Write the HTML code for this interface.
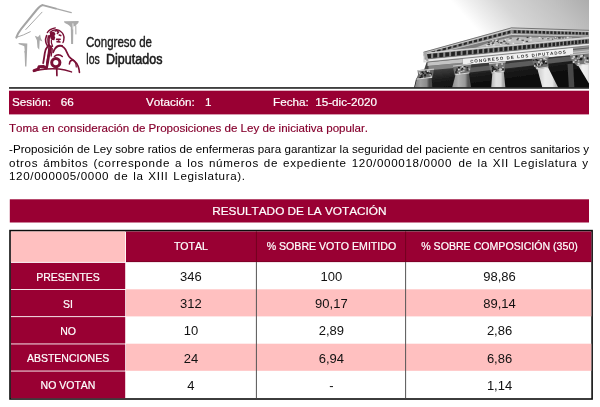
<!DOCTYPE html>
<html lang="es"><head><meta charset="utf-8">
<style>
html,body{margin:0;padding:0;background:#fff;}
body{width:600px;height:407px;overflow:hidden;position:relative;font-family:"Liberation Sans",Arial,sans-serif;color:#000;font-kerning:none;}
.abs{position:absolute;}
#band{left:9px;top:90.7px;width:580px;height:23.7px;color:#fff;-webkit-text-stroke:0.2px #fff;font-size:11.7px;line-height:22px;}
#band span{position:absolute;top:0;white-space:pre;}
#t1{left:8.9px;top:122.0px;line-height:13px;font-size:11.58px;color:#86002e;-webkit-text-stroke:0.15px #86002e;white-space:nowrap;}
.pl{left:9px;font-size:11.6px;line-height:14px;white-space:nowrap;}
#res{left:9.8px;top:199.3px;width:579.2px;height:23.2px;color:#fff;-webkit-text-stroke:0.2px #fff;font-size:11.8px;line-height:24px;text-align:center;}
.hd{color:#fff;font-size:10.6px;-webkit-text-stroke:0.2px #fff;text-align:center;white-space:nowrap;}
.lb{color:#fff;font-size:10.5px;-webkit-text-stroke:0.2px #fff;text-align:center;white-space:nowrap;}
.num{color:#111;font-size:13px;text-align:center;white-space:nowrap;}
</style></head><body>
<svg class="abs" style="left:0;top:0" width="600" height="90" viewBox="0 0 600 90"><defs>
<linearGradient id="sky" gradientUnits="userSpaceOnUse" x1="589" y1="0" x2="512.2" y2="69.1"><stop offset="0" stop-color="#adadad"/><stop offset="0.28" stop-color="#c1c1c1"/><stop offset="0.64" stop-color="#d6d6d6"/><stop offset="0.86" stop-color="#eeeeee"/><stop offset="1" stop-color="#ffffff"/></linearGradient>
<clipPath id="ph"><rect x="300" y="0" width="289" height="87.6"/></clipPath>
<filter id="bl" x="-5%" y="-5%" width="110%" height="110%"><feGaussianBlur stdDeviation="0.5"/></filter>
<linearGradient id="cg0" x1="0" y1="0" x2="1" y2="0"><stop offset="0" stop-color="#7e7e7e"/><stop offset="0.35" stop-color="#a0a0a0"/><stop offset="0.68" stop-color="#8a8a8a"/><stop offset="0.82" stop-color="#4c4c4c"/><stop offset="1" stop-color="#4c4c4c"/></linearGradient>
<linearGradient id="cg1" x1="0" y1="0" x2="1" y2="0"><stop offset="0" stop-color="#8c8c8c"/><stop offset="0.35" stop-color="#b0b0b0"/><stop offset="0.68" stop-color="#989898"/><stop offset="0.82" stop-color="#565656"/><stop offset="1" stop-color="#565656"/></linearGradient>
<linearGradient id="cg2" x1="0" y1="0" x2="1" y2="0"><stop offset="0" stop-color="#b4b4b4"/><stop offset="0.35" stop-color="#e0e0e0"/><stop offset="0.68" stop-color="#dadada"/><stop offset="0.82" stop-color="#a8a8a8"/><stop offset="1" stop-color="#a8a8a8"/></linearGradient>
<linearGradient id="cg3" x1="0" y1="0" x2="1" y2="0"><stop offset="0" stop-color="#c8c8c8"/><stop offset="0.35" stop-color="#ececec"/><stop offset="0.68" stop-color="#e6e6e6"/><stop offset="0.82" stop-color="#bcbcbc"/><stop offset="1" stop-color="#bcbcbc"/></linearGradient>
<linearGradient id="cg4" x1="0" y1="0" x2="1" y2="0"><stop offset="0" stop-color="#d0d0d0"/><stop offset="0.35" stop-color="#f0f0f0"/><stop offset="0.68" stop-color="#eaeaea"/><stop offset="0.82" stop-color="#cccccc"/><stop offset="1" stop-color="#cccccc"/></linearGradient><linearGradient id="dk" gradientUnits="userSpaceOnUse" x1="480" y1="62" x2="483" y2="84"><stop offset="0" stop-color="#444"/><stop offset="0.55" stop-color="#1c1c1c"/><stop offset="1" stop-color="#0e0e0e"/></linearGradient>
</defs>
<g clip-path="url(#ph)">
<rect x="300" y="0" width="289" height="88" fill="url(#sky)"/>
<g filter="url(#bl)">
<polygon points="427,61 592.0,45.70 592.0,90 413.5,90 416,79 424,70" fill="url(#dk)"/>
<polygon points="456.00,69.19 592.00,53.94 592.00,58.74 456.00,73.99" fill="#5c5c5c" />
<polygon points="428.50,65.95 462.70,62.70 462.70,67.20 428.50,70.16" fill="#858585" />
<polygon points="427.50,62.20 462.70,58.67 462.70,62.70 427.50,66.05" fill="#c4c4c4" />
<polygon points="462.70,58.20 573.00,47.40 573.00,55.20 462.70,65.30" fill="#f0f0f0" />
<line x1="462.70" y1="65.60" x2="573.00" y2="55.50" stroke="#3a3a3a" stroke-width="0.8"/>
<polygon points="573.00,46.00 592.00,44.20 592.00,53.00 573.00,54.80" fill="#9a9a9a" />
<line x1="573.00" y1="49.50" x2="592.00" y2="47.60" stroke="#555" stroke-width="0.9"/>
<line x1="573.00" y1="52.40" x2="592.00" y2="50.50" stroke="#d0d0d0" stroke-width="0.9"/>
<polygon points="427.50,53.00 511.50,32.50 592.0,35.10 592.0,36.71" fill="#7c7c7c"/>
<polygon points="476.00,47.59 488.00,43.00 498.00,40.30 510.00,37.60 520.00,37.00 532.00,37.40 546.00,37.60 560.00,37.60 572.00,37.60 572.00,38.62" fill="#bdbdbd"/>
<rect x="510.50" y="37.61" width="1.27" height="1.3" fill="#707070"/>
<rect x="554.27" y="36.84" width="1.28" height="1.3" fill="#dcdcdc"/>
<rect x="526.65" y="36.79" width="1.79" height="1.3" fill="#3c3c3c"/>
<rect x="503.18" y="40.77" width="2.36" height="1.3" fill="#4a4a4a"/>
<rect x="492.89" y="40.86" width="2.02" height="1.3" fill="#707070"/>
<rect x="487.44" y="43.71" width="2.57" height="1.3" fill="#4a4a4a"/>
<rect x="486.10" y="45.05" width="1.79" height="1.3" fill="#e6e6e6"/>
<rect x="529.58" y="39.38" width="2.34" height="1.3" fill="#dcdcdc"/>
<rect x="497.90" y="41.90" width="1.46" height="1.3" fill="#707070"/>
<rect x="490.57" y="43.79" width="1.28" height="1.3" fill="#dcdcdc"/>
<rect x="500.12" y="42.17" width="2.29" height="1.3" fill="#3c3c3c"/>
<rect x="522.97" y="41.68" width="1.62" height="1.3" fill="#e6e6e6"/>
<rect x="551.91" y="38.52" width="1.31" height="1.3" fill="#5c5c5c"/>
<rect x="508.42" y="40.01" width="2.22" height="1.3" fill="#e6e6e6"/>
<rect x="507.34" y="43.46" width="1.92" height="1.3" fill="#4a4a4a"/>
<rect x="496.52" y="40.71" width="1.79" height="1.3" fill="#3c3c3c"/>
<rect x="566.66" y="36.70" width="2.00" height="1.3" fill="#dcdcdc"/>
<rect x="559.04" y="37.25" width="1.69" height="1.3" fill="#707070"/>
<rect x="525.71" y="40.78" width="2.38" height="1.3" fill="#4a4a4a"/>
<rect x="565.13" y="37.30" width="1.29" height="1.3" fill="#707070"/>
<rect x="546.34" y="37.61" width="2.59" height="1.3" fill="#dcdcdc"/>
<rect x="554.33" y="37.31" width="2.44" height="1.3" fill="#3c3c3c"/>
<rect x="512.54" y="42.71" width="1.44" height="1.3" fill="#e6e6e6"/>
<rect x="492.30" y="40.15" width="1.38" height="1.3" fill="#e6e6e6"/>
<rect x="503.79" y="39.50" width="1.31" height="1.3" fill="#3c3c3c"/>
<rect x="521.53" y="39.70" width="2.35" height="1.3" fill="#5c5c5c"/>
<rect x="558.03" y="37.20" width="2.58" height="1.3" fill="#3c3c3c"/>
<rect x="542.08" y="38.00" width="1.41" height="1.3" fill="#5c5c5c"/>
<rect x="497.51" y="39.82" width="1.22" height="1.3" fill="#5c5c5c"/>
<rect x="555.14" y="37.04" width="1.21" height="1.3" fill="#e6e6e6"/>
<rect x="518.87" y="38.78" width="1.65" height="1.3" fill="#dcdcdc"/>
<rect x="493.04" y="44.21" width="2.12" height="1.3" fill="#dcdcdc"/>
<rect x="547.10" y="38.06" width="2.32" height="1.3" fill="#707070"/>
<rect x="516.53" y="39.04" width="1.87" height="1.3" fill="#4a4a4a"/>
<rect x="517.24" y="37.75" width="1.82" height="1.3" fill="#5c5c5c"/>
<rect x="491.67" y="43.07" width="1.20" height="1.3" fill="#4a4a4a"/>
<rect x="495.31" y="39.59" width="2.06" height="1.3" fill="#e6e6e6"/>
<rect x="488.19" y="41.91" width="1.41" height="1.3" fill="#3c3c3c"/>
<rect x="504.20" y="39.13" width="1.86" height="1.3" fill="#e6e6e6"/>
<rect x="492.15" y="42.40" width="1.87" height="1.3" fill="#3c3c3c"/>
<rect x="509.44" y="37.58" width="1.68" height="1.3" fill="#707070"/>
<rect x="505.30" y="42.56" width="1.92" height="1.3" fill="#5c5c5c"/>
<rect x="500.06" y="43.97" width="1.41" height="1.3" fill="#e6e6e6"/>
<rect x="529.80" y="36.73" width="1.62" height="1.3" fill="#dcdcdc"/>
<rect x="538.58" y="36.97" width="1.93" height="1.3" fill="#e6e6e6"/>
<rect x="561.93" y="37.23" width="1.95" height="1.3" fill="#5c5c5c"/>
<polygon points="423.50,52.00 511.50,27.50 511.50,34.90 423.50,56.80" fill="#cdcdcd" />
<polygon points="423.50,53.44 511.50,29.72 511.50,33.27 423.50,55.74" fill="#8a8a8a" />
<polygon points="426.00,53.06 429.47,52.13 429.47,54.12 426.00,55.01" fill="#262626"/>
<polygon points="431.60,51.56 435.03,50.64 435.03,52.70 431.60,53.57" fill="#262626"/>
<polygon points="437.13,50.08 440.51,49.17 440.51,51.29 437.13,52.16" fill="#262626"/>
<polygon points="442.58,48.62 445.92,47.72 445.92,49.91 442.58,50.76" fill="#262626"/>
<polygon points="447.97,47.18 451.27,46.29 451.27,48.54 447.97,49.38" fill="#262626"/>
<polygon points="453.29,45.75 456.54,44.88 456.54,47.19 453.29,48.02" fill="#262626"/>
<polygon points="458.54,44.35 461.75,43.49 461.75,45.86 458.54,46.68" fill="#262626"/>
<polygon points="463.72,42.96 466.89,42.11 466.89,44.54 463.72,45.35" fill="#262626"/>
<polygon points="468.83,41.59 471.96,40.75 471.96,43.24 468.83,44.04" fill="#262626"/>
<polygon points="473.88,40.24 476.97,39.41 476.97,41.96 473.88,42.75" fill="#262626"/>
<polygon points="478.87,38.90 481.92,38.09 481.92,40.70 478.87,41.48" fill="#262626"/>
<polygon points="483.79,37.58 486.80,36.78 486.80,39.45 483.79,40.22" fill="#262626"/>
<polygon points="488.64,36.28 491.62,35.49 491.62,38.21 488.64,38.97" fill="#262626"/>
<polygon points="493.44,35.00 496.37,34.22 496.37,37.00 493.44,37.75" fill="#262626"/>
<polygon points="498.17,33.73 501.07,32.96 501.07,35.79 498.17,36.54" fill="#262626"/>
<polygon points="502.84,32.48 505.70,31.72 505.70,34.61 502.84,35.34" fill="#262626"/>
<polygon points="507.45,31.25 510.27,30.49 510.27,33.44 507.45,34.16" fill="#262626"/>
<line x1="424.50" y1="55.59" x2="511.50" y2="33.42" stroke="#7c7c7c" stroke-width="0.7"/>
<line x1="423.50" y1="52.24" x2="511.50" y2="27.87" stroke="#6a6a6a" stroke-width="0.9"/>
<polygon points="511.20,27.49 592.00,30.10 592.00,36.60 511.20,34.89" fill="#cdcdcd" />
<polygon points="511.20,29.71 592.00,32.05 592.00,35.17 511.20,33.26" fill="#8a8a8a" />
<polygon points="513.70,30.22 516.37,30.30 516.37,33.24 513.70,33.17" fill="#262626"/>
<polygon points="518.00,30.35 520.63,30.42 520.63,33.34 518.00,33.28" fill="#262626"/>
<polygon points="522.24,30.47 524.83,30.54 524.83,33.44 522.24,33.38" fill="#262626"/>
<polygon points="526.42,30.58 528.97,30.66 528.97,33.54 526.42,33.48" fill="#262626"/>
<polygon points="530.54,30.70 533.06,30.77 533.06,33.63 530.54,33.57" fill="#262626"/>
<polygon points="534.60,30.82 537.09,30.89 537.09,33.73 534.60,33.67" fill="#262626"/>
<polygon points="538.61,30.93 541.06,31.00 541.06,33.82 538.61,33.77" fill="#262626"/>
<polygon points="542.56,31.04 544.98,31.11 544.98,33.92 542.56,33.86" fill="#262626"/>
<polygon points="546.46,31.15 548.84,31.22 548.84,34.01 546.46,33.95" fill="#262626"/>
<polygon points="550.30,31.26 552.64,31.32 552.64,34.10 550.30,34.04" fill="#262626"/>
<polygon points="554.08,31.37 556.40,31.43 556.40,34.19 554.08,34.13" fill="#262626"/>
<polygon points="557.81,31.47 560.10,31.54 560.10,34.28 557.81,34.22" fill="#262626"/>
<polygon points="561.49,31.58 563.74,31.64 563.74,34.36 561.49,34.31" fill="#262626"/>
<polygon points="565.12,31.68 567.34,31.74 567.34,34.45 565.12,34.40" fill="#262626"/>
<polygon points="568.70,31.78 570.89,31.84 570.89,34.53 568.70,34.48" fill="#262626"/>
<polygon points="572.23,31.88 574.38,31.94 574.38,34.62 572.23,34.57" fill="#262626"/>
<polygon points="575.71,31.98 577.83,32.04 577.83,34.70 575.71,34.65" fill="#262626"/>
<polygon points="579.13,32.07 581.23,32.13 581.23,34.78 579.13,34.73" fill="#262626"/>
<polygon points="582.51,32.17 584.58,32.23 584.58,34.86 582.51,34.81" fill="#262626"/>
<polygon points="585.85,32.26 587.89,32.32 587.89,34.94 585.85,34.89" fill="#262626"/>
<polygon points="589.13,32.36 591.14,32.41 591.14,35.02 589.13,34.97" fill="#262626"/>
<line x1="512.20" y1="33.43" x2="592.00" y2="35.30" stroke="#7c7c7c" stroke-width="0.7"/>
<line x1="511.20" y1="27.86" x2="592.00" y2="30.42" stroke="#6a6a6a" stroke-width="0.9"/>
<polygon points="423.50,52.80 592.00,36.71 592.00,45.70 423.50,62.60" fill="#d4d4d4" />
<polygon points="424.70,53.89 592.00,38.52 592.00,43.11 424.70,59.28" fill="#8c8c8c" />
<polygon points="427.00,54.18 431.09,53.80 431.09,58.27 427.00,58.66" fill="#222222"/>
<polygon points="433.20,53.61 437.22,53.24 437.22,57.67 433.20,58.06" fill="#222222"/>
<polygon points="439.29,53.05 443.23,52.69 443.23,57.09 439.29,57.47" fill="#222222"/>
<polygon points="445.26,52.50 449.14,52.15 449.14,56.52 445.26,56.90" fill="#222222"/>
<polygon points="451.13,51.96 454.93,51.61 454.93,55.96 451.13,56.33" fill="#222222"/>
<polygon points="456.89,51.43 460.63,51.09 460.63,55.41 456.89,55.77" fill="#222222"/>
<polygon points="462.55,50.91 466.21,50.58 466.21,54.87 462.55,55.22" fill="#222222"/>
<polygon points="468.10,50.40 471.70,50.07 471.70,54.34 468.10,54.69" fill="#222222"/>
<polygon points="473.56,49.90 477.09,49.58 477.09,53.82 473.56,54.16" fill="#222222"/>
<polygon points="478.91,49.41 482.38,49.09 482.38,53.31 478.91,53.64" fill="#222222"/>
<polygon points="484.17,48.93 487.57,48.62 487.57,52.81 484.17,53.14" fill="#222222"/>
<polygon points="489.33,48.45 492.67,48.15 492.67,52.31 489.33,52.64" fill="#222222"/>
<polygon points="494.39,47.99 497.68,47.69 497.68,51.83 494.39,52.15" fill="#222222"/>
<polygon points="499.37,47.53 502.59,47.24 502.59,51.35 499.37,51.67" fill="#222222"/>
<polygon points="504.25,47.08 507.42,46.79 507.42,50.89 504.25,51.19" fill="#222222"/>
<polygon points="509.05,46.64 512.15,46.36 512.15,50.43 509.05,50.73" fill="#222222"/>
<polygon points="513.76,46.21 516.81,45.93 516.81,49.98 513.76,50.27" fill="#222222"/>
<polygon points="518.38,45.79 521.37,45.51 521.37,49.54 518.38,49.83" fill="#222222"/>
<polygon points="522.92,45.37 525.86,45.10 525.86,49.10 522.92,49.39" fill="#222222"/>
<polygon points="527.37,44.96 530.26,44.69 530.26,48.68 527.37,48.96" fill="#222222"/>
<polygon points="531.75,44.56 534.58,44.30 534.58,48.26 531.75,48.53" fill="#222222"/>
<polygon points="536.04,44.16 538.83,43.91 538.83,47.85 536.04,48.12" fill="#222222"/>
<polygon points="540.26,43.78 542.99,43.53 542.99,47.45 540.26,47.71" fill="#222222"/>
<polygon points="544.40,43.40 547.08,43.15 547.08,47.05 544.40,47.31" fill="#222222"/>
<polygon points="548.47,43.02 551.10,42.78 551.10,46.66 548.47,46.92" fill="#222222"/>
<polygon points="552.46,42.66 555.04,42.42 555.04,46.28 552.46,46.53" fill="#222222"/>
<polygon points="556.38,42.30 558.92,42.06 558.92,45.91 556.38,46.15" fill="#222222"/>
<polygon points="560.23,41.94 562.72,41.71 562.72,45.54 560.23,45.78" fill="#222222"/>
<polygon points="564.00,41.60 566.45,41.37 566.45,45.18 564.00,45.42" fill="#222222"/>
<polygon points="567.71,41.26 570.12,41.03 570.12,44.83 567.71,45.06" fill="#222222"/>
<polygon points="571.35,40.92 573.71,40.70 573.71,44.48 571.35,44.71" fill="#222222"/>
<polygon points="574.93,40.59 577.25,40.38 577.25,44.14 574.93,44.36" fill="#222222"/>
<polygon points="578.44,40.27 580.71,40.06 580.71,43.80 578.44,44.02" fill="#222222"/>
<polygon points="581.89,39.95 584.12,39.75 584.12,43.47 581.89,43.69" fill="#222222"/>
<polygon points="585.27,39.64 587.46,39.44 587.46,43.15 585.27,43.36" fill="#222222"/>
<polygon points="588.59,39.34 590.74,39.14 590.74,42.83 588.59,43.04" fill="#222222"/>
<polygon points="591.85,39.04 592.00,39.02 592.00,42.71 591.85,42.72" fill="#222222"/>
<line x1="425.50" y1="59.01" x2="592.00" y2="42.91" stroke="#6a6a6a" stroke-width="0.8"/>
<line x1="424.50" y1="60.74" x2="592.00" y2="44.28" stroke="#ebebeb" stroke-width="1.3"/>
<line x1="427.50" y1="62.00" x2="592.00" y2="45.50" stroke="#666" stroke-width="0.7"/>
<polygon points="423.5,52 426.5,52 428.8,62 426,60.4" fill="#a6a6a6"/>
<polygon points="417.00,78.50 431.50,76.77 432.50,90.00 414.00,90.00" fill="url(#cg0)"/>
<polygon points="417.50,70.30 434.00,68.57 433.40,73.07 432.50,77.77 416.00,79.50 418.10,74.80" fill="#6a6a6a"/>
<line x1="417.50" y1="70.90" x2="434.00" y2="69.17" stroke="#c9c9c9" stroke-width="1.3"/>
<rect x="424.38" y="74.40" width="1.72" height="1.61" fill="#1a1a1a"/>
<rect x="426.10" y="71.63" width="1.73" height="1.69" fill="#303030"/>
<rect x="421.08" y="73.96" width="1.38" height="1.85" fill="#262626"/>
<rect x="427.58" y="70.49" width="2.17" height="1.72" fill="#cacaca"/>
<rect x="426.48" y="71.40" width="2.05" height="1.25" fill="#1e1e1e"/>
<rect x="419.83" y="77.08" width="1.33" height="1.57" fill="#303030"/>
<rect x="424.29" y="76.36" width="1.51" height="1.44" fill="#303030"/>
<rect x="418.29" y="71.76" width="1.55" height="2.00" fill="#b4b4b4"/>
<rect x="430.47" y="75.69" width="1.53" height="1.81" fill="#b4b4b4"/>
<rect x="425.13" y="70.66" width="1.99" height="1.52" fill="#303030"/>
<rect x="429.29" y="72.68" width="2.06" height="1.20" fill="#1e1e1e"/>
<rect x="421.78" y="77.09" width="1.64" height="1.77" fill="#cacaca"/>
<rect x="423.99" y="74.48" width="2.00" height="1.42" fill="#262626"/>
<rect x="419.71" y="73.32" width="1.98" height="1.29" fill="#cacaca"/>
<rect x="421.55" y="71.53" width="1.72" height="1.59" fill="#1e1e1e"/>
<rect x="427.34" y="71.52" width="1.47" height="1.79" fill="#303030"/>
<rect x="420.62" y="75.37" width="1.66" height="1.99" fill="#1e1e1e"/>
<rect x="419.42" y="77.02" width="1.83" height="2.00" fill="#1a1a1a"/>
<rect x="418.64" y="72.43" width="1.84" height="1.66" fill="#1a1a1a"/>
<rect x="418.88" y="72.12" width="1.53" height="1.82" fill="#cacaca"/>
<rect x="422.76" y="72.75" width="1.37" height="1.37" fill="#1e1e1e"/>
<rect x="426.82" y="70.38" width="1.63" height="1.56" fill="#d6d6d6"/>
<rect x="430.57" y="73.22" width="1.42" height="1.51" fill="#303030"/>
<rect x="426.57" y="72.45" width="2.04" height="1.40" fill="#262626"/>
<rect x="421.40" y="75.95" width="1.48" height="1.96" fill="#303030"/>
<rect x="429.49" y="74.16" width="1.34" height="1.29" fill="#cacaca"/>
<line x1="416.50" y1="79.10" x2="432.00" y2="77.37" stroke="#dadada" stroke-width="1.0"/>
<polygon points="455.70,74.20 468.70,72.28 471.50,90.00 451.50,90.00" fill="url(#cg1)"/>
<polygon points="453.00,65.50 471.30,63.58 470.70,68.08 469.70,73.28 454.70,75.20 453.60,70.00" fill="#707070"/>
<line x1="453.00" y1="66.10" x2="471.30" y2="64.18" stroke="#c9c9c9" stroke-width="1.3"/>
<rect x="461.02" y="70.50" width="1.61" height="1.51" fill="#b4b4b4"/>
<rect x="468.09" y="68.48" width="2.03" height="1.75" fill="#b4b4b4"/>
<rect x="462.70" y="69.60" width="1.86" height="1.98" fill="#b4b4b4"/>
<rect x="459.49" y="68.35" width="1.35" height="1.86" fill="#262626"/>
<rect x="455.87" y="71.25" width="1.91" height="1.84" fill="#d6d6d6"/>
<rect x="456.36" y="72.89" width="2.12" height="1.61" fill="#1a1a1a"/>
<rect x="456.50" y="73.37" width="1.40" height="1.54" fill="#cacaca"/>
<rect x="456.19" y="68.49" width="1.80" height="1.98" fill="#303030"/>
<rect x="466.49" y="69.18" width="2.03" height="1.52" fill="#303030"/>
<rect x="460.28" y="70.13" width="1.85" height="1.63" fill="#cacaca"/>
<rect x="463.45" y="66.06" width="2.18" height="1.73" fill="#262626"/>
<rect x="459.34" y="68.53" width="1.65" height="1.45" fill="#b4b4b4"/>
<rect x="457.87" y="68.48" width="1.76" height="1.85" fill="#d6d6d6"/>
<rect x="461.35" y="65.88" width="2.07" height="1.23" fill="#1a1a1a"/>
<rect x="455.22" y="71.24" width="1.65" height="1.82" fill="#1e1e1e"/>
<rect x="456.05" y="70.24" width="1.37" height="1.42" fill="#262626"/>
<rect x="460.45" y="69.40" width="1.87" height="1.24" fill="#303030"/>
<rect x="460.76" y="67.26" width="1.71" height="1.76" fill="#d6d6d6"/>
<rect x="466.47" y="66.89" width="1.72" height="1.64" fill="#262626"/>
<rect x="457.34" y="71.68" width="2.12" height="1.21" fill="#262626"/>
<rect x="458.43" y="71.59" width="1.46" height="1.84" fill="#d6d6d6"/>
<rect x="461.37" y="67.48" width="2.19" height="2.00" fill="#1e1e1e"/>
<rect x="461.40" y="65.85" width="2.09" height="1.73" fill="#d6d6d6"/>
<rect x="458.09" y="66.88" width="1.77" height="1.58" fill="#1a1a1a"/>
<rect x="463.17" y="67.40" width="2.10" height="1.33" fill="#cacaca"/>
<rect x="458.79" y="72.30" width="1.60" height="1.89" fill="#d6d6d6"/>
<line x1="455.20" y1="74.80" x2="469.20" y2="72.88" stroke="#dadada" stroke-width="1.0"/>
<polygon points="492.40,72.40 503.70,70.66 505.60,90.00 491.00,90.00" fill="url(#cg2)"/>
<polygon points="489.00,63.00 505.60,61.26 505.00,65.76 504.70,71.66 491.40,73.40 489.60,67.50" fill="#727272"/>
<line x1="489.00" y1="63.60" x2="505.60" y2="61.86" stroke="#c9c9c9" stroke-width="1.3"/>
<rect x="493.68" y="69.05" width="2.02" height="1.91" fill="#b4b4b4"/>
<rect x="498.29" y="68.42" width="1.50" height="1.79" fill="#1a1a1a"/>
<rect x="492.00" y="68.02" width="1.97" height="1.22" fill="#262626"/>
<rect x="492.13" y="69.20" width="2.19" height="1.87" fill="#1e1e1e"/>
<rect x="491.79" y="70.10" width="1.54" height="1.56" fill="#1a1a1a"/>
<rect x="495.66" y="64.59" width="1.62" height="1.39" fill="#d6d6d6"/>
<rect x="501.32" y="67.19" width="1.90" height="1.91" fill="#cacaca"/>
<rect x="498.13" y="68.35" width="2.04" height="1.84" fill="#d6d6d6"/>
<rect x="502.17" y="68.20" width="1.85" height="1.99" fill="#303030"/>
<rect x="495.81" y="69.17" width="1.46" height="1.36" fill="#303030"/>
<rect x="496.80" y="65.35" width="1.54" height="1.42" fill="#cacaca"/>
<rect x="501.18" y="67.42" width="1.51" height="1.39" fill="#303030"/>
<rect x="492.63" y="66.67" width="1.69" height="1.70" fill="#1e1e1e"/>
<rect x="496.00" y="63.48" width="2.14" height="1.23" fill="#cacaca"/>
<rect x="492.45" y="70.12" width="1.70" height="1.40" fill="#1a1a1a"/>
<rect x="499.19" y="68.87" width="2.10" height="1.84" fill="#d6d6d6"/>
<rect x="493.18" y="70.42" width="1.77" height="1.73" fill="#d6d6d6"/>
<rect x="501.17" y="68.41" width="1.95" height="1.37" fill="#262626"/>
<rect x="497.91" y="67.79" width="1.33" height="1.67" fill="#303030"/>
<rect x="497.42" y="64.73" width="1.45" height="1.75" fill="#262626"/>
<rect x="491.42" y="65.70" width="1.69" height="1.68" fill="#1e1e1e"/>
<rect x="500.08" y="68.45" width="2.04" height="1.72" fill="#cacaca"/>
<rect x="496.86" y="64.36" width="1.41" height="1.44" fill="#d6d6d6"/>
<rect x="493.74" y="68.36" width="2.14" height="1.62" fill="#1e1e1e"/>
<rect x="501.31" y="63.18" width="1.60" height="1.60" fill="#d6d6d6"/>
<rect x="502.23" y="66.84" width="1.50" height="1.37" fill="#cacaca"/>
<line x1="491.90" y1="73.00" x2="504.20" y2="71.26" stroke="#dadada" stroke-width="1.0"/>
<polygon points="537.20,68.20 547.60,66.46 559.40,90.00 543.00,90.00" fill="url(#cg3)"/>
<polygon points="532.00,57.80 548.60,56.06 548.00,60.56 548.60,67.46 536.20,69.20 532.60,62.30" fill="#727272"/>
<line x1="532.00" y1="58.40" x2="548.60" y2="56.66" stroke="#c9c9c9" stroke-width="1.3"/>
<rect x="534.93" y="64.90" width="1.77" height="1.40" fill="#b4b4b4"/>
<rect x="542.53" y="60.58" width="1.89" height="1.44" fill="#1e1e1e"/>
<rect x="541.82" y="61.56" width="2.12" height="1.41" fill="#1a1a1a"/>
<rect x="544.25" y="60.61" width="1.53" height="1.84" fill="#1a1a1a"/>
<rect x="541.26" y="59.50" width="1.90" height="1.42" fill="#303030"/>
<rect x="532.86" y="59.70" width="1.60" height="1.27" fill="#303030"/>
<rect x="536.31" y="67.11" width="1.82" height="1.95" fill="#cacaca"/>
<rect x="544.85" y="58.65" width="1.92" height="1.29" fill="#b4b4b4"/>
<rect x="540.56" y="63.72" width="2.08" height="1.80" fill="#262626"/>
<rect x="539.34" y="64.17" width="1.71" height="1.37" fill="#d6d6d6"/>
<rect x="543.15" y="62.30" width="1.41" height="2.00" fill="#1e1e1e"/>
<rect x="536.53" y="59.73" width="1.97" height="1.29" fill="#262626"/>
<rect x="539.85" y="59.17" width="2.18" height="1.33" fill="#cacaca"/>
<rect x="538.05" y="61.21" width="1.69" height="1.68" fill="#cacaca"/>
<rect x="534.50" y="62.99" width="1.70" height="1.69" fill="#262626"/>
<rect x="539.37" y="63.29" width="1.93" height="1.66" fill="#cacaca"/>
<rect x="533.91" y="65.02" width="1.32" height="1.77" fill="#cacaca"/>
<rect x="537.87" y="62.61" width="1.57" height="1.35" fill="#d6d6d6"/>
<rect x="541.09" y="62.25" width="1.39" height="1.28" fill="#d6d6d6"/>
<rect x="535.28" y="59.07" width="1.83" height="1.43" fill="#1e1e1e"/>
<rect x="545.03" y="60.89" width="1.40" height="1.97" fill="#d6d6d6"/>
<rect x="543.29" y="58.03" width="2.09" height="1.41" fill="#d6d6d6"/>
<rect x="536.50" y="63.89" width="1.56" height="1.81" fill="#d6d6d6"/>
<rect x="537.92" y="63.37" width="1.97" height="1.83" fill="#303030"/>
<rect x="535.46" y="64.34" width="1.63" height="1.51" fill="#262626"/>
<rect x="545.07" y="62.49" width="2.12" height="1.59" fill="#1a1a1a"/>
<line x1="536.70" y1="68.80" x2="548.10" y2="67.06" stroke="#dadada" stroke-width="1.0"/>
<polygon points="577.70,64.80 592.00,62.49 592.00,86.00 590.50,86.00" fill="url(#cg4)"/>
<polygon points="570.00,54.20 592.00,51.89 591.40,56.39 593.00,63.49 576.70,65.80 570.60,58.70" fill="#747474"/>
<line x1="570.00" y1="54.80" x2="592.00" y2="52.49" stroke="#c9c9c9" stroke-width="1.3"/>
<rect x="588.68" y="53.78" width="1.33" height="1.93" fill="#b4b4b4"/>
<rect x="575.49" y="55.54" width="1.91" height="1.89" fill="#1a1a1a"/>
<rect x="588.85" y="55.74" width="1.72" height="1.48" fill="#d6d6d6"/>
<rect x="578.38" y="57.75" width="1.49" height="1.48" fill="#1a1a1a"/>
<rect x="577.02" y="57.56" width="1.76" height="1.39" fill="#b4b4b4"/>
<rect x="579.46" y="58.30" width="1.71" height="1.84" fill="#1e1e1e"/>
<rect x="579.17" y="57.42" width="1.88" height="1.52" fill="#b4b4b4"/>
<rect x="585.37" y="62.68" width="2.16" height="1.87" fill="#cacaca"/>
<rect x="575.30" y="59.72" width="2.14" height="1.75" fill="#303030"/>
<rect x="583.95" y="56.66" width="1.44" height="1.88" fill="#cacaca"/>
<rect x="586.73" y="57.32" width="1.72" height="1.87" fill="#1e1e1e"/>
<rect x="581.12" y="57.96" width="1.51" height="1.63" fill="#303030"/>
<rect x="580.20" y="55.25" width="1.58" height="1.86" fill="#d6d6d6"/>
<rect x="577.55" y="62.72" width="2.08" height="1.83" fill="#d6d6d6"/>
<rect x="584.03" y="61.45" width="1.73" height="1.29" fill="#d6d6d6"/>
<rect x="580.07" y="57.85" width="1.53" height="1.97" fill="#1a1a1a"/>
<rect x="572.86" y="55.89" width="2.10" height="1.96" fill="#cacaca"/>
<rect x="574.65" y="59.50" width="2.09" height="1.60" fill="#cacaca"/>
<rect x="580.21" y="58.69" width="1.81" height="1.57" fill="#1e1e1e"/>
<rect x="584.61" y="59.26" width="1.95" height="1.74" fill="#b4b4b4"/>
<rect x="582.20" y="54.85" width="1.88" height="1.50" fill="#1a1a1a"/>
<rect x="577.79" y="60.20" width="1.57" height="1.56" fill="#b4b4b4"/>
<rect x="581.08" y="54.74" width="2.10" height="1.91" fill="#cacaca"/>
<rect x="572.66" y="61.18" width="1.85" height="1.93" fill="#d6d6d6"/>
<rect x="571.62" y="57.65" width="2.19" height="1.46" fill="#cacaca"/>
<rect x="586.60" y="59.85" width="1.74" height="1.20" fill="#d6d6d6"/>
<line x1="577.20" y1="65.40" x2="592.50" y2="63.09" stroke="#dadada" stroke-width="1.0"/>
<polygon points="567.5,64 573,63.5 574.5,90 569,90" fill="#4a4a4a"/>
</g>
<g filter="url(#bl)"><text transform="translate(470.4,63.0) rotate(-5.67)" font-family="Liberation Sans, Arial, sans-serif" font-size="4.4" font-weight="bold" fill="#2c2c2c" textLength="96.1" lengthAdjust="spacing" style="white-space:pre">CONGRESO DE LOS DIPUTADOS</text></g>
</g><g fill="none" stroke="#a9a9a9" stroke-linecap="round" stroke-linejoin="round">
<path d="M16.3,37.6 C17.6,33.8 19.6,31 21,29.2 L36.5,10 Q40.6,5.4 42.75,5.1 L56,8.6" stroke-width="2.0" stroke="#a4a4a4"/>
<path d="M56,8.6 L71.3,12.6" stroke-width="1.2"/>
<path d="M42,12.2 L25.8,29.5" stroke-width="1.0"/>
<path d="M16.6,37.3 Q23.3,35.4 30.3,31.7" stroke-width="1.0"/>
<path d="M75.8,25.9 L75.9,34" stroke-width="1.0"/>
</g>
<g fill="#ababab" stroke="none">
<path d="M64,21.2 L78.6,21.1 C78.9,22.6 78,23.7 76.6,24.6 L75.4,26 L73.3,26.6 L73.1,44 L71.1,44 L70.8,27.2 C69,24.8 66,23.8 64.3,22.6 Z"/>
<path d="M34.8,35.8 L38,37.1 L40.1,34.4 L40.8,38 L42.4,41.4 L39.7,40.2 L39.2,49.8 L37.5,47.6 L36.9,40.2 Z"/>
<path d="M18.6,43.1 L27.3,43.5 L27.1,50 L26.4,66.4 L25.1,66.4 L24.6,52.8 L24.1,52 L24.7,50.5 L24.3,46.2 C22,45.2 20,44.6 18.6,44 Z"/>
</g>
<path d="M72.9,23.4 L73.2,29.5" stroke="#fff" stroke-width="0.8" fill="none"/>
<g fill="none" stroke="#7a1036" stroke-linecap="round" stroke-linejoin="round">
<path d="M47.3,32.6 C48.5,30.4 51,28.6 55.3,27.8" stroke-width="1.30"/>
<path d="M50.2,32.3 C52,30.5 54.5,29.6 56.6,29.7 C58.6,29.8 60,30.6 61,31.7 C62.4,32.8 63.1,33.8 63.3,34.8 C64,36.2 64.1,37.6 63.9,38.7 C63.8,40.4 63.5,41.6 63,42.5" stroke-width="1.43"/>
<path d="M50.6,33 L53.6,32.4 L54.6,34 L53.6,35.8 L54.4,37.6 L53.8,39.4 L51.6,39 L50.8,36.4 Z" fill="#7a1036" stroke-width="1.56"/>
<path d="M55.2,31 L57,30.6 L58.6,32.2 L57.4,33.4 M59.2,35 L60.8,35.6 M56.6,39.4 L60.2,39.2 M57,41.8 L60,42 M58.6,40 L58.8,41.6" stroke-width="1.56"/>
<path d="M46.6,35.5 C45.4,38 45.4,40 45.8,42 C46,43.4 46.6,44.4 47.2,45.2" stroke-width="1.6"/>
<path d="M48.4,36.1 C47.8,38.4 47.8,40.6 48.1,42.5 C48.6,44.6 49.6,46.2 50.8,47.6" stroke-width="1.56"/>
<path d="M50.7,46.5 C50.9,50 49.4,53 48.6,56.5 C48,60.4 47.4,64.4 46.5,68.2" stroke-width="2.60"/>
<path d="M48.2,45.7 C46.2,48 45.2,50.4 44.8,53.2 C44.3,56.6 43.8,59.8 43.2,63.2" stroke-width="1.8"/>
<path d="M52.2,48.5 C52.4,51 51.4,53.4 51.2,56 " stroke-width="1.30"/>
<path d="M34,70.7 L38.2,69 L39,66.7 L43.2,66.3 L45.9,68" stroke-width="2.86"/>
<path d="M34,71 C38,70 42,69.3 46.5,69 C51,68.7 55,68.7 59,69 C63.4,69.5 67.6,70.6 71.5,71.9" stroke-width="1.43"/>
<circle cx="55.8" cy="62.6" r="4.1" stroke-width="3.0"/>
<path d="M56.7,67.2 L56.9,75.6" stroke-width="1.69"/>
<path d="M53.2,52.3 C54,50 55,48.4 56.5,47.3 C58,46.2 59.8,45.7 61.5,46 C63.2,46.6 64.6,48 65.7,49.8 C66.8,52 67.6,54.4 69,56.5 C70.4,58.4 72.2,59.4 74,60.7 C76,62.4 77.4,64.2 78.2,66.5 C78.9,68.4 79.3,70.4 79.4,72.3" stroke-width="1.69"/>
<path d="M54.4,56.5 C55.6,55.4 56.8,54.9 58.2,54.8 C59.8,54.9 61.2,55.5 62.3,56.5" stroke-width="1.56"/>
<path d="M69.4,64 C69.5,62.6 70,61.4 70.7,60.7 C71.5,60.2 72.4,60.1 73.2,60.2" stroke-width="1.56"/>
<path d="M55.3,47.6 C56.4,46.4 57.6,45.7 59.1,45.4 C60.4,45.2 61.4,45.3 62.3,45.7" stroke-width="1.30"/>
<path d="M49.5,35.8 C48.6,40 49.2,45 48.8,49.5 C48.4,54 47.6,58.6 46.7,63.3" stroke-width="1.5"/>
<path d="M51.4,40.4 C51,42.6 51.6,44.6 52.6,46.4" stroke-width="1.3"/>
<path d="M70.2,61.2 C71.4,60 73.4,60 74.6,61.4 C75.8,63 76.2,65 76.3,67" stroke-width="1.2"/>
<path d="M40.5,67 L44.5,67.4" stroke-width="2.4"/>
</g>
<g font-family="Liberation Sans, Arial, sans-serif" fill="#1c1c1c" stroke="#1c1c1c" font-size="15.2">
<text x="86" y="46.9" textLength="66" lengthAdjust="spacingAndGlyphs" stroke-width="0.4">Congreso de</text>
<text x="86.3" y="64.2" textLength="13.4" lengthAdjust="spacingAndGlyphs" stroke-width="0.4">los</text>
<text x="106" y="64.2" textLength="56.4" lengthAdjust="spacingAndGlyphs" stroke-width="0.6">Diputados</text>
</g>
</svg>
<svg class="abs" style="left:0;top:0" width="600" height="407" viewBox="0 0 600 407"><rect x="9" y="87.2" width="580" height="1.5" fill="#111"/>
<rect x="9" y="90.7" width="580" height="23.7" fill="#990033"/>
<rect x="9.8" y="199.3" width="579.2" height="23.2" fill="#990033"/>
<rect x="9.20" y="229.80" width="583.70" height="170.00" fill="#0d0d0d"/>
<rect x="10.90" y="231.50" width="580.40" height="166.70" fill="#fff"/>
<rect x="10.90" y="231.50" width="114.30" height="30.40" fill="#ffc0c0"/>
<rect x="126.00" y="231.50" width="465.30" height="30.50" fill="#990033"/>
<rect x="126.00" y="261.20" width="465.30" height="0.90" fill="#7a0026"/>
<rect x="255.90" y="231.50" width="1.00" height="30.50" fill="#73001f"/>
<rect x="405.10" y="231.50" width="1.00" height="30.50" fill="#73001f"/>
<rect x="10.90" y="262.90" width="114.30" height="26.20" fill="#990033"/>
<rect x="10.90" y="290.00" width="114.30" height="26.20" fill="#990033"/>
<rect x="126.00" y="289.30" width="465.30" height="27.10" fill="#ffc0c0"/>
<rect x="10.90" y="317.10" width="114.30" height="26.40" fill="#990033"/>
<rect x="10.90" y="344.40" width="114.30" height="26.20" fill="#990033"/>
<rect x="126.00" y="343.70" width="465.30" height="27.10" fill="#ffc0c0"/>
<rect x="10.90" y="371.50" width="114.30" height="26.70" fill="#990033"/>
<rect x="255.90" y="262.00" width="1.00" height="136.20" fill="#555"/>
<rect x="405.10" y="262.00" width="1.00" height="136.20" fill="#555"/></svg>
<div class="abs hd" style="left:125.50px;top:230.70px;width:130.90px;height:30.50px;line-height:30.50px;">TOTAL</div>
<div class="abs hd" style="left:256.80px;top:230.70px;width:149.20px;height:30.50px;line-height:30.50px;">% SOBRE VOTO EMITIDO</div>
<div class="abs hd" style="left:406.60px;top:230.70px;width:185.90px;height:30.50px;line-height:30.50px;">% SOBRE COMPOSICIÓN (350)</div>
<div class="abs lb" style="left:10.90px;top:263.50px;width:114.30px;height:26.20px;line-height:26.20px;">PRESENTES</div>
<div class="abs num" style="left:125.50px;top:264.00px;width:130.90px;height:26.20px;line-height:26.20px;">346</div>
<div class="abs num" style="left:256.80px;top:264.00px;width:149.20px;height:26.20px;line-height:26.20px;">100</div>
<div class="abs num" style="left:406.60px;top:264.00px;width:185.90px;height:26.20px;line-height:26.20px;">98,86</div>
<div class="abs lb" style="left:10.90px;top:290.60px;width:114.30px;height:26.20px;line-height:26.20px;">SI</div>
<div class="abs num" style="left:125.50px;top:291.10px;width:130.90px;height:26.20px;line-height:26.20px;">312</div>
<div class="abs num" style="left:256.80px;top:291.10px;width:149.20px;height:26.20px;line-height:26.20px;">90,17</div>
<div class="abs num" style="left:406.60px;top:291.10px;width:185.90px;height:26.20px;line-height:26.20px;">89,14</div>
<div class="abs lb" style="left:10.90px;top:317.70px;width:114.30px;height:26.40px;line-height:26.40px;">NO</div>
<div class="abs num" style="left:125.50px;top:318.20px;width:130.90px;height:26.40px;line-height:26.40px;">10</div>
<div class="abs num" style="left:256.80px;top:318.20px;width:149.20px;height:26.40px;line-height:26.40px;">2,89</div>
<div class="abs num" style="left:406.60px;top:318.20px;width:185.90px;height:26.40px;line-height:26.40px;">2,86</div>
<div class="abs lb" style="left:10.90px;top:345.00px;width:114.30px;height:26.20px;line-height:26.20px;">ABSTENCIONES</div>
<div class="abs num" style="left:125.50px;top:345.50px;width:130.90px;height:26.20px;line-height:26.20px;">24</div>
<div class="abs num" style="left:256.80px;top:345.50px;width:149.20px;height:26.20px;line-height:26.20px;">6,94</div>
<div class="abs num" style="left:406.60px;top:345.50px;width:185.90px;height:26.20px;line-height:26.20px;">6,86</div>
<div class="abs lb" style="left:10.90px;top:372.10px;width:114.30px;height:26.70px;line-height:26.70px;">NO VOTAN</div>
<div class="abs num" style="left:125.50px;top:372.60px;width:130.90px;height:26.70px;line-height:26.70px;">4</div>
<div class="abs num" style="left:256.80px;top:372.60px;width:149.20px;height:26.70px;line-height:26.70px;">-</div>
<div class="abs num" style="left:406.60px;top:372.60px;width:185.90px;height:26.70px;line-height:26.70px;">1,14</div>
<div class="abs" id="band"><span style="left:3px">Sesión:   66</span><span style="left:137px">Votación:</span><span style="left:196px">1</span><span style="left:264px">Fecha:  15-dic-2020</span></div>
<div class="abs" id="t1">Toma en consideración de Proposiciones de Ley de iniciativa popular.</div>
<div class="abs pl" id="p1" style="top:142px;letter-spacing:0.03px">-Proposición de Ley sobre ratios de enfermeras para garantizar la seguridad del paciente en centros sanitarios y</div>
<div class="abs pl" id="p2" style="top:155.5px;letter-spacing:0.68px;word-spacing:1.1px">otros ámbitos (corresponde a los números de expediente 120/000018/0000<span style="margin-left:1.5px;letter-spacing:0.615px"> de la XII Legislatura y</span></div>
<div class="abs pl" id="p3" style="top:169px;letter-spacing:0.66px;word-spacing:1px">120/000005/0000 de la XIII Legislatura).</div>
<div class="abs" id="res">RESULTADO DE LA VOTACIÓN</div>
</body></html>
